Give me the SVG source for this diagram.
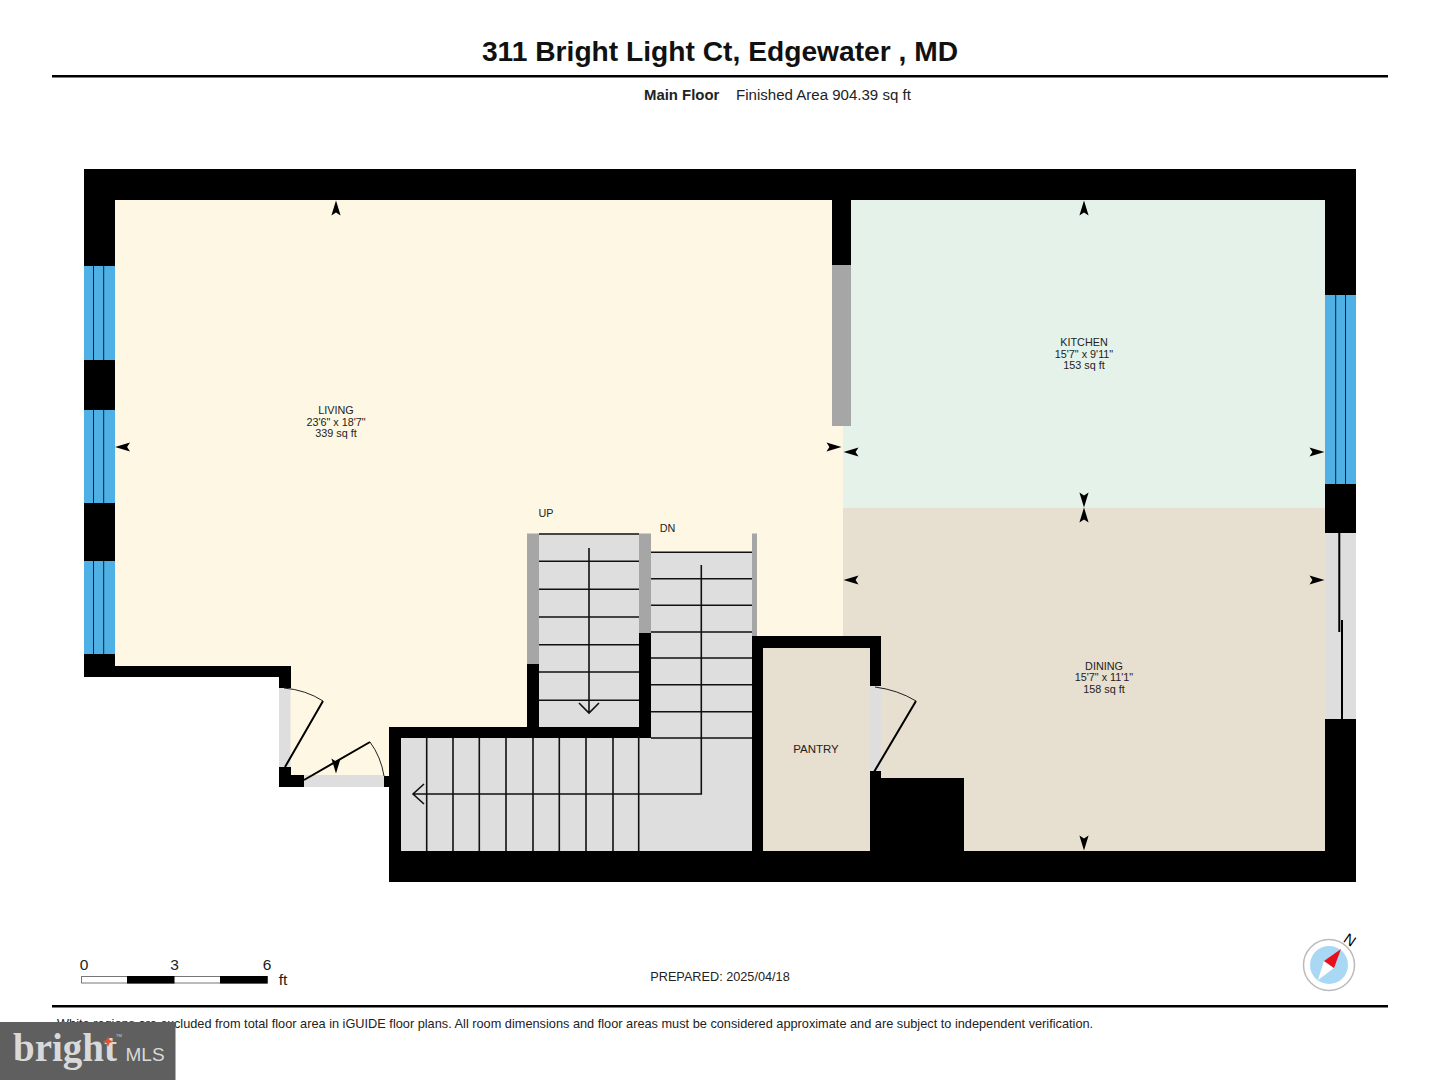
<svg xmlns="http://www.w3.org/2000/svg" width="1440" height="1080" viewBox="0 0 1440 1080">
<style>
text{font-family:"Liberation Sans",Arial,sans-serif;fill:#222}
.room{font-size:10.8px;text-anchor:middle}
.w{fill:#000}.g{fill:#a6a6a6}.t{fill:#dedede}.b{fill:#4fb0e5}
.l{stroke:#111;stroke-width:1.6;fill:none}
.d{stroke:#000;stroke-width:2;fill:none}
.a{stroke:#222;stroke-width:1;fill:none}
.sc{font-size:15.5px;text-anchor:middle}
</style>
<defs><path id="arr" d="M0,-7.5L4.600,7.500L0,4.600L-4.600,7.500Z" fill="#000"/></defs>
<rect width="1440" height="1080" fill="#fff"/>
<g id="header">
<text x="720" y="61" font-size="28.200" font-weight="bold" text-anchor="middle" style="fill:#111">311 Bright Light Ct, Edgewater , MD</text>
<rect x="52" y="75" width="1336" height="2.500" fill="#000"/>
<text x="644" y="99.500" font-size="14.900" font-weight="bold">Main Floor</text>
<text x="736" y="99.500" font-size="15.050">Finished Area 904.39 sq ft</text>
</g>
<g id="floors">
<path id="living" d="M115,200H832V426H843V636H639V727H389V776H290V666H115Z" fill="#fef7e3"/>
<path id="kitchen" d="M851,200H1325V507.500H843V426H851Z" fill="#e5f2ea"/>
<path id="dining" d="M843,507.500H1325V851H964V778H881V636H843Z" fill="#e7dfd0"/>
<rect id="pantry" x="763" y="648" width="107" height="203" fill="#e7dfd0"/>
</g>
<g id="stairs">
<rect class="t" x="539" y="533.500" width="100" height="193.500"/>
<rect class="t" x="651" y="552" width="101" height="186"/>
<rect class="t" x="401" y="738" width="351" height="113"/>
<path class="l" d="M539,534H639M539,561.300H639M539,589.300H639M539,617H639M539,644.700H639M539,672H639M539,700.300H639M651,552.300H752M651,578.700H752M651,605.300H752M651,632H752M651,658H752M651,684.700H752M651,711.700H752M651,738H752M426.700,738V851M453,738V851M479.300,738V851M506,738V851M533,738V851M559.300,738V851M586,738V851M613,738V851M638.700,738V851"/>
<path class="l" d="M589,548V713M579,703L589,713L599,703M701.300,565V794H413M424,784L413,794L424,804"/>
</g>
<g id="walls">
<path class="w" d="M84,169H1356V266H1325V200H851V265H832V200H115V266H84Z"/>
<rect class="w" x="84" y="360" width="31" height="50"/>
<rect class="w" x="84" y="503" width="31" height="58"/>
<path class="w" d="M84,654H115V666H291V688H279V677H84Z"/>
<path class="w" d="M279,767H291V775H304V787H279Z"/>
<rect class="w" x="384" y="776" width="6" height="11"/>
<path class="w" d="M389,727H527V664H539V727H639V633H651V738H401V851H752V636H881V686H870V648H763V851H870V771H881V778H964V851H1325V719H1356V882H389Z"/>
<path class="w" d="M1325,266H1356V295H1325ZM1325,484H1356V533H1325Z"/>
<rect class="g" x="832" y="265" width="19" height="161"/>
<rect class="g" x="527" y="533.500" width="12" height="130.500"/>
<rect class="g" x="639" y="533.500" width="12" height="99.500"/>
<rect class="g" x="752" y="533.500" width="5" height="102.500"/>
</g>
<g id="windows">
<rect class="b" x="84" y="266" width="31" height="94"/>
<rect class="b" x="84" y="410" width="31" height="93"/>
<rect class="b" x="84" y="561" width="31" height="93"/>
<rect class="b" x="1325" y="295" width="31" height="189"/>
<path stroke="#123" stroke-width="1" fill="none" d="M93.500,266V360M103.700,266V360M93.500,410V503M103.700,410V503M93.500,561V654M103.700,561V654M1335.700,295V484M1345.500,295V484"/>
</g>
<g id="doors">
<rect class="t" x="279" y="688" width="11.500" height="79"/>
<rect class="t" x="304" y="775" width="80" height="12"/>
<rect class="t" x="870" y="686" width="11" height="85"/>
<rect class="t" x="1325" y="533" width="31" height="186"/>
<path class="d" d="M285,767L323,701M304,780L370,742M874,772L916,701M1339.300,531V632M1342,620V719"/>
<path class="a" d="M284,688Q306,690 323,701M370,742Q381,757 384,776M875,687Q898,690 916,701"/>
</g>
<g id="markers">
<use href="#arr" transform="translate(336,208)"/>
<use href="#arr" transform="translate(122.500,447) rotate(-90)"/>
<use href="#arr" transform="translate(834,447) rotate(90)"/>
<use href="#arr" transform="translate(336,766) rotate(180)"/>
<use href="#arr" transform="translate(1084,208)"/>
<use href="#arr" transform="translate(851,452) rotate(-90)"/>
<use href="#arr" transform="translate(1317,452) rotate(90)"/>
<use href="#arr" transform="translate(1084,500) rotate(180)"/>
<use href="#arr" transform="translate(1084,515)"/>
<use href="#arr" transform="translate(851,580) rotate(-90)"/>
<use href="#arr" transform="translate(1317,580) rotate(90)"/>
<use href="#arr" transform="translate(1084,843) rotate(180)"/>
</g>
<g id="labels">
<text class="room" x="336" y="414">LIVING</text>
<text class="room" x="336" y="426">23'6" x 18'7"</text>
<text class="room" x="336" y="437">339 sq ft</text>
<text class="room" x="1084" y="346">KITCHEN</text>
<text class="room" x="1084" y="358">15'7" x 9'11"</text>
<text class="room" x="1084" y="369">153 sq ft</text>
<text class="room" x="1104" y="670">DINING</text>
<text class="room" x="1104" y="681">15'7" x 11'1"</text>
<text class="room" x="1104" y="693">158 sq ft</text>
<text class="room" x="816" y="753" style="font-size:11.500px">PANTRY</text>
<text class="room" x="546" y="517">UP</text>
<text class="room" x="667.500" y="532">DN</text>
</g>
<g id="scale">
<rect x="81.500" y="976.500" width="186" height="6.500" fill="#fff" stroke="#777"/>
<rect x="127" y="976" width="47.500" height="7.500" fill="#000"/>
<rect x="220" y="976" width="47.500" height="7.500" fill="#000"/>
<text class="sc" x="84" y="969.500">0</text>
<text class="sc" x="174.500" y="969.500">3</text>
<text class="sc" x="267" y="969.500">6</text>
<text class="sc" x="283" y="985">ft</text>
</g>
<text id="prepared" x="720" y="981" font-size="12.700" text-anchor="middle">PREPARED: 2025/04/18</text>
<g id="compass">
<circle cx="1329" cy="965" r="25.500" fill="#fff" stroke="#bbb" stroke-width="1.500"/>
<circle cx="1329" cy="965" r="19" fill="#a9d8f5"/>
<path d="M1318,980L1324,961L1334,968Z" fill="#fff"/>
<path d="M1341,949L1324,961L1334,968Z" fill="#e8101c"/>
<text x="0" y="0" font-size="15" text-anchor="middle" transform="translate(1347,944) rotate(35)" style="fill:#000">N</text>
</g>
<g id="footer">
<rect x="52" y="1005" width="1336" height="2.500" fill="#000"/>
<text x="57" y="1028" font-size="12.750">White regions are excluded from total floor area in iGUIDE floor plans. All room dimensions and floor areas must be considered approximate and are subject to independent verification.</text>
</g>
<g id="logo">
<rect x="0" y="1022" width="175.500" height="58" fill="#5f5f5f"/>
<text x="13" y="1061" font-size="39" font-weight="bold" style="font-family:'Liberation Serif',serif;fill:#d9d9d9">bright</text>
<path d="M108,1036l1.500,4 4,1.500 -4,1.500 -1.500,4 -1.500,-4 -4,-1.500 4,-1.500Z" fill="#e0532b"/>
<text x="125.500" y="1061" font-size="19" style="fill:#d9d9d9">MLS</text>
<text x="116" y="1037" font-size="4" style="fill:#d9d9d9">TM</text>
</g>
</svg>
